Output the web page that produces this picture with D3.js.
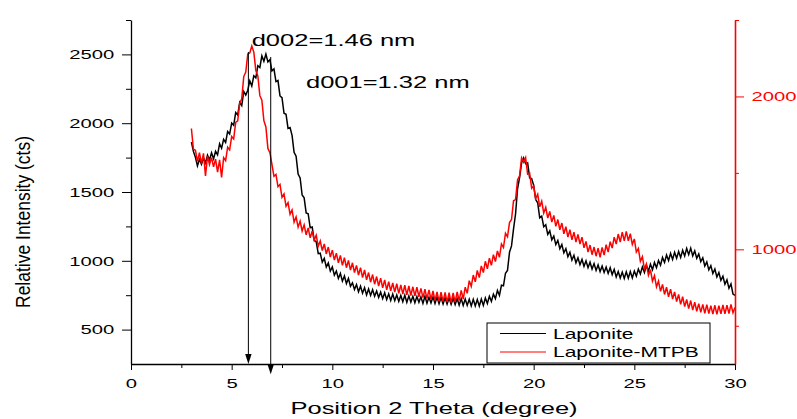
<!DOCTYPE html>
<html>
<head>
<meta charset="utf-8">
<script src="https://cdn.jsdelivr.net/npm/d3@7"></script>
<style>
body { margin: 0; background: #fff; }
text { font-family: "Liberation Sans", Arial, sans-serif; }
</style>
</head>
<body>
<script>
var w = 797;
var h = 419;

var laponite = [
    1862, 1795, 1752, 1690, 1738, 1701, 1747, 1712, 1768, 1733,
    1785, 1741, 1796, 1770, 1851, 1818, 1882, 1860, 1940, 1921,
    2001, 1985, 2078, 2060, 2151, 2128, 2230, 2205, 2240, 2308,
    2270, 2345, 2330, 2418, 2405, 2490, 2450, 2502, 2445, 2462,
    2380, 2395, 2302, 2310, 2198, 2185, 2072, 2065, 1962, 1968,
    1912, 1788, 1760, 1630, 1602, 1478, 1458, 1348, 1342, 1240,
    1245, 1148, 1138, 1052, 1055, 990, 1018, 955, 985, 925,
    955, 896, 925, 872, 908, 852, 890, 835, 872, 815,
    840, 792, 828, 775, 815, 765, 805, 752, 795, 748,
    790, 742, 780, 733, 772, 725, 768, 718, 760, 712,
    758, 710, 752, 705, 748, 702, 750, 698, 745, 700,
    742, 695, 740, 698, 738, 690, 742, 692, 735, 694,
    738, 690, 736, 688, 735, 686, 732, 685, 730, 684,
    728, 682, 726, 678, 725, 675, 722, 676, 720, 672,
    720, 672, 718, 670, 722, 676, 730, 690, 742, 705,
    758, 725, 785, 748, 822, 818, 910, 930, 1062, 1108,
    1232, 1340, 1525, 1605, 1712, 1748, 1705, 1712, 1602, 1598,
    1548, 1445, 1422, 1312, 1325, 1248, 1262, 1192, 1218, 1152,
    1180, 1118, 1148, 1088, 1118, 1058, 1088, 1030, 1062, 1005,
    1040, 985, 1022, 972, 1010, 960, 1000, 950, 990, 940,
    980, 930, 970, 922, 962, 915, 955, 908, 950, 900,
    938, 882, 922, 875, 918, 872, 920, 874, 922, 876,
    926, 888, 940, 904, 956, 915, 966, 925, 976, 935,
    988, 950, 1002, 968, 1024, 988, 1042, 1002, 1054, 1010,
    1062, 1018, 1068, 1024, 1076, 1035, 1090, 1045, 1092, 1036,
    1072, 1018, 1050, 994, 1022, 962, 992, 934, 965, 908,
    940, 882, 915, 858, 888, 830, 862, 800, 832, 758,
    748
];

var laponiteMtpb = [
    1790, 1655, 1648, 1575, 1632, 1560, 1628, 1480, 1610, 1555,
    1600, 1540, 1590, 1505, 1585, 1470, 1600, 1580, 1668, 1650,
    1738, 1722, 1830, 1840, 1955, 1985, 2130, 2160, 2278, 2285,
    2330, 2290, 2170, 2135, 2005, 1975, 1842, 1800, 1660, 1632,
    1555, 1478, 1490, 1410, 1425, 1340, 1362, 1282, 1305, 1230,
    1258, 1178, 1212, 1145, 1185, 1120, 1160, 1095, 1140, 1075,
    1120, 1060, 1092, 1020, 1055, 992, 1035, 970, 1015, 950,
    995, 930, 975, 912, 960, 895, 945, 880, 928, 864,
    912, 848, 895, 832, 880, 815, 865, 800, 848, 785,
    835, 772, 822, 760, 812, 748, 800, 735, 788, 728,
    780, 720, 775, 712, 768, 708, 765, 702, 760, 698,
    755, 695, 752, 690, 745, 684, 740, 678, 735, 672,
    728, 665, 722, 660, 720, 658, 718, 655, 716, 652,
    715, 655, 722, 665, 732, 675, 752, 712, 795, 758,
    832, 788, 862, 815, 892, 848, 922, 872, 942, 895,
    965, 920, 990, 948, 1035, 1012, 1105, 1082, 1175, 1195,
    1318, 1325, 1455, 1480, 1598, 1570, 1600, 1492, 1498, 1400,
    1415, 1332, 1360, 1278, 1315, 1238, 1275, 1205, 1248, 1178,
    1222, 1150, 1195, 1128, 1172, 1102, 1148, 1080, 1128, 1062,
    1112, 1048, 1098, 1035, 1080, 1010, 1052, 982, 1028, 965,
    1015, 955, 1008, 948, 1012, 962, 1030, 982, 1050, 1008,
    1080, 1035, 1100, 1048, 1112, 1055, 1118, 1056, 1102, 1032,
    1068, 982, 1005, 922, 952, 872, 905, 830, 868, 792,
    828, 755, 792, 725, 770, 705, 752, 690, 740, 675,
    722, 658, 705, 640, 690, 625, 672, 612, 665, 602,
    655, 595, 645, 588, 640, 582, 638, 580, 632, 576,
    634, 575, 632, 578, 636, 578, 635, 580, 640, 585,
    620
];

var theta = laponite.map(function (d, i) { return +(3 + i * 0.1).toFixed(1); });

// tick values
var xMajor = [0, 5, 10, 15, 20, 25, 30];
var xMinor = [2.5, 7.5, 12.5, 17.5, 22.5, 27.5];
var yMajor = [500, 1000, 1500, 2000, 2500];
var yMinor = [750, 1250, 1750, 2250, 2750];
var y2Major = [1000, 2000];
var y2Minor = [500, 1500, 2500];

// the d-spacing arrows: 2 theta, top of the line, tip (left axis counts)
var arrowTheta = [5.83, 6.94];
var arrowTop = [2518, 2481];
var arrowTip = [250, 175];
var arrowLabels = ["d002=1.46 nm", "d001=1.32 nm"];

var seriesNames = ["Laponite", "Laponite-MTPB"];
var seriesColors = ["#000000", "#ff0000"];

var stretch = 1.5; // the original picture is stretched sideways

var svg = d3.select("body")
            .append("svg")
            .attr("width", w)
            .attr("height", h);

var plotLeft = 131, plotRight = 735, plotTop = 20, plotBottom = 364;

var xScale = d3.scaleLinear().domain([0, 30]).range([plotLeft, plotRight]);
var yScale = d3.scaleLinear().domain([250, 2750]).range([plotBottom, plotTop]);
var y2Scale = d3.scaleLinear().domain([250, 2500]).range([plotBottom, plotTop]);

// the two scans, red drawn over black
var lineBlack = d3.line()
                  .x(function (d, i) { return xScale(theta[i]); })
                  .y(function (d) { return yScale(d); });
var lineRed = d3.line()
                .x(function (d, i) { return xScale(theta[i]); })
                .y(function (d) { return y2Scale(d); });

svg.append("path")
   .datum(laponite)
   .attr("d", lineBlack)
   .attr("fill", "none")
   .attr("stroke", seriesColors[0])
   .attr("stroke-width", 1.5);

svg.append("path")
   .datum(laponiteMtpb)
   .attr("d", lineRed)
   .attr("fill", "none")
   .attr("stroke", seriesColors[1])
   .attr("stroke-width", 1.5);

var fmt = d3.format("d");

// bottom axis
var gx = svg.append("g")
            .attr("transform", "translate(0," + plotBottom + ")")
            .call(d3.axisBottom(xScale).tickValues(xMajor).tickFormat(fmt).tickSize(6).tickSizeOuter(0));
gx.append("g")
  .call(d3.axisBottom(xScale).tickValues(xMinor).tickSize(4).tickSizeOuter(0).tickFormat(""))
  .select(".domain").remove();
gx.selectAll(".tick text")
  .attr("x", 0)
  .attr("y", 24)
  .attr("dy", 0)
  .attr("transform", "scale(" + stretch + ",1)")
  .style("font-size", "13.5px")
  .attr("fill", "#000");

// left axis
var gy = svg.append("g")
            .attr("transform", "translate(" + plotLeft + ",0)")
            .call(d3.axisLeft(yScale).tickValues(yMajor).tickFormat(fmt).tickSize(9).tickSizeOuter(0));
gy.append("g")
  .call(d3.axisLeft(yScale).tickValues(yMinor).tickSize(5).tickSizeOuter(0).tickFormat(""))
  .select(".domain").remove();
gy.selectAll("text")
  .attr("x", -16.7 / stretch)
  .attr("transform", "scale(" + stretch + ",1)")
  .style("font-size", "13.5px")
  .attr("fill", "#000");

// right axis, red
var gy2 = svg.append("g")
             .attr("transform", "translate(" + plotRight + ",0)")
             .call(d3.axisRight(y2Scale).tickValues(y2Major).tickFormat(fmt).tickSize(9).tickSizeOuter(0));
gy2.append("g")
   .call(d3.axisRight(y2Scale).tickValues(y2Minor).tickSize(4).tickSizeOuter(0).tickFormat(""))
   .select(".domain").remove();
gy2.selectAll("path, line").attr("stroke", "#ff0000");
gy2.selectAll("text")
   .attr("x", 16.5 / stretch)
   .attr("transform", "scale(" + stretch + ",1)")
   .style("font-size", "13.5px")
   .attr("fill", "#ff0000");

svg.selectAll(".domain").attr("stroke-width", 1.3);
gy2.select(".domain").attr("stroke-width", 1.6);

// arrows
arrowTheta.forEach(function (t, i) {
    var x = xScale(t);
    var y1 = yScale(arrowTop[i]);
    var y2 = yScale(arrowTip[i]);
    svg.append("line")
       .attr("x1", x).attr("x2", x)
       .attr("y1", y1).attr("y2", y2 - 6)
       .attr("stroke", "#000")
       .attr("stroke-width", 1);
    svg.append("path")
       .attr("d", "M" + (x - 3.2) + "," + (y2 - 10) + "L" + (x + 3.2) + "," + (y2 - 10) + "L" + x + "," + y2 + "Z")
       .attr("fill", "#000");
});

// d-spacing labels
var labelPos = [[251.7, 46], [306, 88.3]];
arrowLabels.forEach(function (s, i) {
    svg.append("text")
       .attr("transform", "translate(" + labelPos[i][0] + "," + labelPos[i][1] + ") scale(" + stretch + ",1)")
       .style("font-size", "17px")
       .text(s);
});

// axis titles
svg.append("text")
   .attr("transform", "translate(434,414) scale(" + stretch + ",1)")
   .attr("text-anchor", "middle")
   .style("font-size", "17px")
   .text("Position 2 Theta (degree)");

svg.append("text")
   .attr("transform", "translate(30,222) scale(1.2,1) rotate(-90)")
   .attr("text-anchor", "middle")
   .style("font-size", "17.5px")
   .text("Relative Intensity (cts)");

// legend
var legend = svg.append("g");
legend.append("rect")
      .attr("x", 487).attr("y", 323)
      .attr("width", 223).attr("height", 40)
      .attr("fill", "#fff")
      .attr("stroke", "#000")
      .attr("stroke-width", 1);
seriesNames.forEach(function (s, i) {
    var yy = 333.5 + i * 18.5;
    legend.append("line")
          .attr("x1", 500).attr("x2", 546)
          .attr("y1", yy).attr("y2", yy)
          .attr("stroke", seriesColors[i])
          .attr("stroke-width", 1);
    legend.append("text")
          .attr("transform", "translate(553," + (yy + 5) + ") scale(" + stretch + ",1)")
          .style("font-size", "14px")
          .text(s);
});
</script>
</body>
</html>
